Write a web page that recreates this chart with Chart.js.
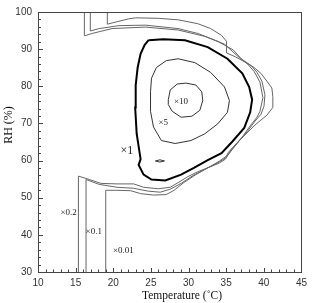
<!DOCTYPE html>
<html>
<head>
<meta charset="utf-8">
<script src="https://cdn.jsdelivr.net/npm/chart.js@4/dist/chart.umd.min.js"></script>
<style>
  body { margin: 0; background: #fff; }
  canvas { display: block; }
</style>
</head>
<body>
<canvas id="growthChart" width="312" height="303"></canvas>
<script>
// contour lines, [temperature (C), RH (%)]
const contour10 = [[27.31,76.40],[27.57,79.02],[28.49,80.60],[29.67,80.86],[30.98,80.33],[31.76,78.50],[31.89,76.14],[31.50,73.52],[30.45,71.94],[29.01,71.68],[27.83,73.26],[27.31,75.09],[27.31,76.40]];
const contour5 = [[24.95,78.50],[25.08,82.17],[25.73,85.05],[27.04,86.89],[28.62,87.41],[30.84,86.37],[32.94,83.74],[34.78,79.81],[35.43,76.14],[35.17,72.99],[33.86,69.85],[32.16,67.22],[30.32,65.39],[28.22,64.60],[26.39,65.39],[25.34,69.06],[24.95,73.26],[24.95,78.50]];
const contour1 = [[24.68,92.40],[26.65,92.66],[29.53,92.40],[32.55,90.56],[35.17,87.41],[37.14,83.48],[38.06,79.81],[38.45,76.40],[38.19,72.99],[37.40,68.80],[35.83,65.13],[34.38,61.98],[32.55,60.15],[30.71,58.05],[29.01,56.21],[26.91,54.64],[25.08,54.90],[24.03,56.21],[23.37,58.83],[23.63,60.41],[23.11,67.22],[22.91,74.30],[22.98,80.33],[23.24,85.05],[23.63,88.73],[24.16,91.09],[24.68,92.40]];
const contour1Spot = [[25.6,59.9],[26.2,60.2],[26.8,59.9],[26.2,59.6],[25.6,59.9]];
const contour02 = [[15.37,30],[15.37,55.82],[16.82,54.90],[18.39,53.85],[20.49,53.72],[22.71,53.72],[24.03,52.81],[25.99,52.41],[27.56,52.81],[28.88,54.38],[29.92,55.69],[31.23,57.00],[32.55,58.05],[34.12,59.36],[34.91,60.41],[35.69,63.03],[36.48,64.60],[37.26,66.70],[38.18,69.32],[39.10,71.68],[39.49,73.26],[39.88,76.93],[39.49,81.12],[38.71,84.01],[37.79,86.10],[36.48,88.20],[34.77,91.35],[32.15,93.45],[28.61,95.15],[24.29,95.94],[19.83,95.54],[17.21,94.23],[16.16,93.58],[16.16,100]];
const contour01 = [[16.38,30],[16.38,54.90],[18.13,53.59],[20.49,52.81],[22.71,52.54],[24.68,51.76],[26.25,51.49],[27.56,52.28],[29.01,53.85],[30.58,55.95],[32.28,57.79],[33.86,59.36],[34.91,60.67],[35.43,61.98],[36.74,65.39],[37.79,67.75],[38.84,70.63],[39.62,72.47],[40.02,74.57],[40.15,77.71],[39.75,81.38],[39.10,83.74],[38.31,85.58],[37.00,87.41],[35.95,89.77],[33.86,92.13],[31.23,94.23],[28.61,95.54],[24.29,96.46],[20.75,96.33],[18.13,95.54],[16.95,94.89],[16.95,100]];
const contour001 = [[19.0,30],[19.0,52.0],[20.49,52.0],[22.32,51.89],[23.63,51.10],[25.34,50.71],[27.04,50.84],[28.09,52.02],[29.40,54.12],[30.97,56.21],[32.81,58.31],[34.12,59.89],[35.04,61.20],[35.30,62.24],[36.48,64.87],[37.79,67.49],[38.84,69.59],[39.62,70.90],[40.41,72.21],[41.20,74.31],[41.20,77.19],[41.07,79.55],[40.41,81.38],[39.62,83.48],[38.71,85.05],[37.40,86.63],[36.22,87.94],[35.04,88.99],[35.04,92.13],[34.38,93.71],[32.94,95.54],[31.23,96.85],[28.61,97.90],[25.99,98.30],[22.98,98.43],[22.06,98.16],[20.49,97.38],[19.21,96.72],[19.21,100]];

const labelText = ['\u00d710', '\u00d75', '\u00d71', '\u00d70.2', '\u00d70.1', '\u00d70.01'];
const labelT = [29.0, 26.65, 21.8, 14.06, 17.41, 21.34];
const labelRH = [75.75, 70.1, 62.5, 46.0, 40.9, 35.8];

const xTicks = [10, 15, 20, 25, 30, 35, 40, 45];
const yTicks = [30, 40, 50, 60, 70, 80, 90, 100];
const xTitle = 'Temperature (\u02daC)';
const yTitle = 'RH (%)';

function toPoints(arr) {
  return arr.map(p => ({ x: p[0], y: p[1] }));
}

function line(arr, color, width) {
  return {
    data: toPoints(arr),
    showLine: true,
    borderColor: color,
    borderWidth: width,
    pointRadius: 0,
    fill: false,
    tension: 0
  };
}

// inward ticks, frame, axis titles and contour labels
const decorations = {
  id: 'decorations',
  afterDraw(chart) {
    const ctx = chart.ctx;
    const area = chart.chartArea;
    const xs = chart.scales.x;
    const ys = chart.scales.y;
    ctx.save();
    ctx.strokeStyle = '#444';
    ctx.lineWidth = 1;
    ctx.beginPath();
    for (let v = xTicks[0]; v <= xTicks[xTicks.length - 1]; v++) {
      const px = Math.round(xs.getPixelForValue(v)) + 0.5;
      const len = v % 5 === 0 ? 4 : 2.5;
      ctx.moveTo(px, area.bottom);
      ctx.lineTo(px, area.bottom - len);
    }
    for (let v = yTicks[0]; v <= yTicks[yTicks.length - 1]; v += 2) {
      const py = Math.round(ys.getPixelForValue(v)) + 0.5;
      const len = v % 10 === 0 ? 5 : 3;
      ctx.moveTo(area.left, py);
      ctx.lineTo(area.left + len, py);
    }
    ctx.stroke();
    ctx.strokeRect(Math.round(area.left) + 0.5, Math.round(area.top) + 0.5,
      Math.round(area.right - area.left), Math.round(area.bottom - area.top));

    ctx.fillStyle = '#222';
    ctx.textAlign = 'center';
    ctx.textBaseline = 'middle';
    for (let i = 0; i < labelText.length; i++) {
      ctx.font = i === 2 ? '12px "Liberation Serif"' : '9px "Liberation Serif"';
      ctx.fillText(labelText[i], xs.getPixelForValue(labelT[i]), ys.getPixelForValue(labelRH[i]));
    }

    ctx.fillStyle = '#111';
    ctx.font = '11.5px "Liberation Serif"';
    ctx.fillText(xTitle, 182, 296);
    ctx.translate(9, 125);
    ctx.rotate(-Math.PI / 2);
    ctx.font = '12px "Liberation Serif"';
    ctx.fillText(yTitle, 0, 0);
    ctx.restore();
  }
};

const ctx = document.getElementById('growthChart').getContext('2d');
new Chart(ctx, {
  type: 'scatter',
  data: {
    datasets: [
      line(contour001, '#666', 1),
      line(contour01, '#666', 1),
      line(contour02, '#666', 1),
      line(contour1, '#000', 2),
      line(contour1Spot, '#333', 1),
      line(contour5, '#333', 1),
      line(contour10, '#333', 1)
    ]
  },
  options: {
    responsive: false,
    animation: false,
    devicePixelRatio: 1,
    layout: { padding: { top: 5, right: 7, left: 0, bottom: 0 } },
    plugins: { legend: { display: false }, tooltip: { enabled: false } },
    scales: {
      x: {
        type: 'linear',
        min: 10,
        max: 45,
        afterFit: s => { s.height = 31; },
        afterBuildTicks: s => { s.ticks = xTicks.map(v => ({ value: v })); },
        grid: { display: false, drawTicks: false },
        border: { display: false },
        ticks: { padding: 5, color: '#333', font: { family: 'Liberation Sans', size: 10 }, maxRotation: 0 }
      },
      y: {
        type: 'linear',
        min: 30,
        max: 100,
        afterFit: s => { s.width = 38; },
        afterBuildTicks: s => { s.ticks = yTicks.map(v => ({ value: v })); },
        grid: { display: false, drawTicks: false },
        border: { display: false },
        ticks: { padding: 6, color: '#333', font: { family: 'Liberation Sans', size: 10 } }
      }
    }
  },
  plugins: [decorations]
});
</script>
</body>
</html>
